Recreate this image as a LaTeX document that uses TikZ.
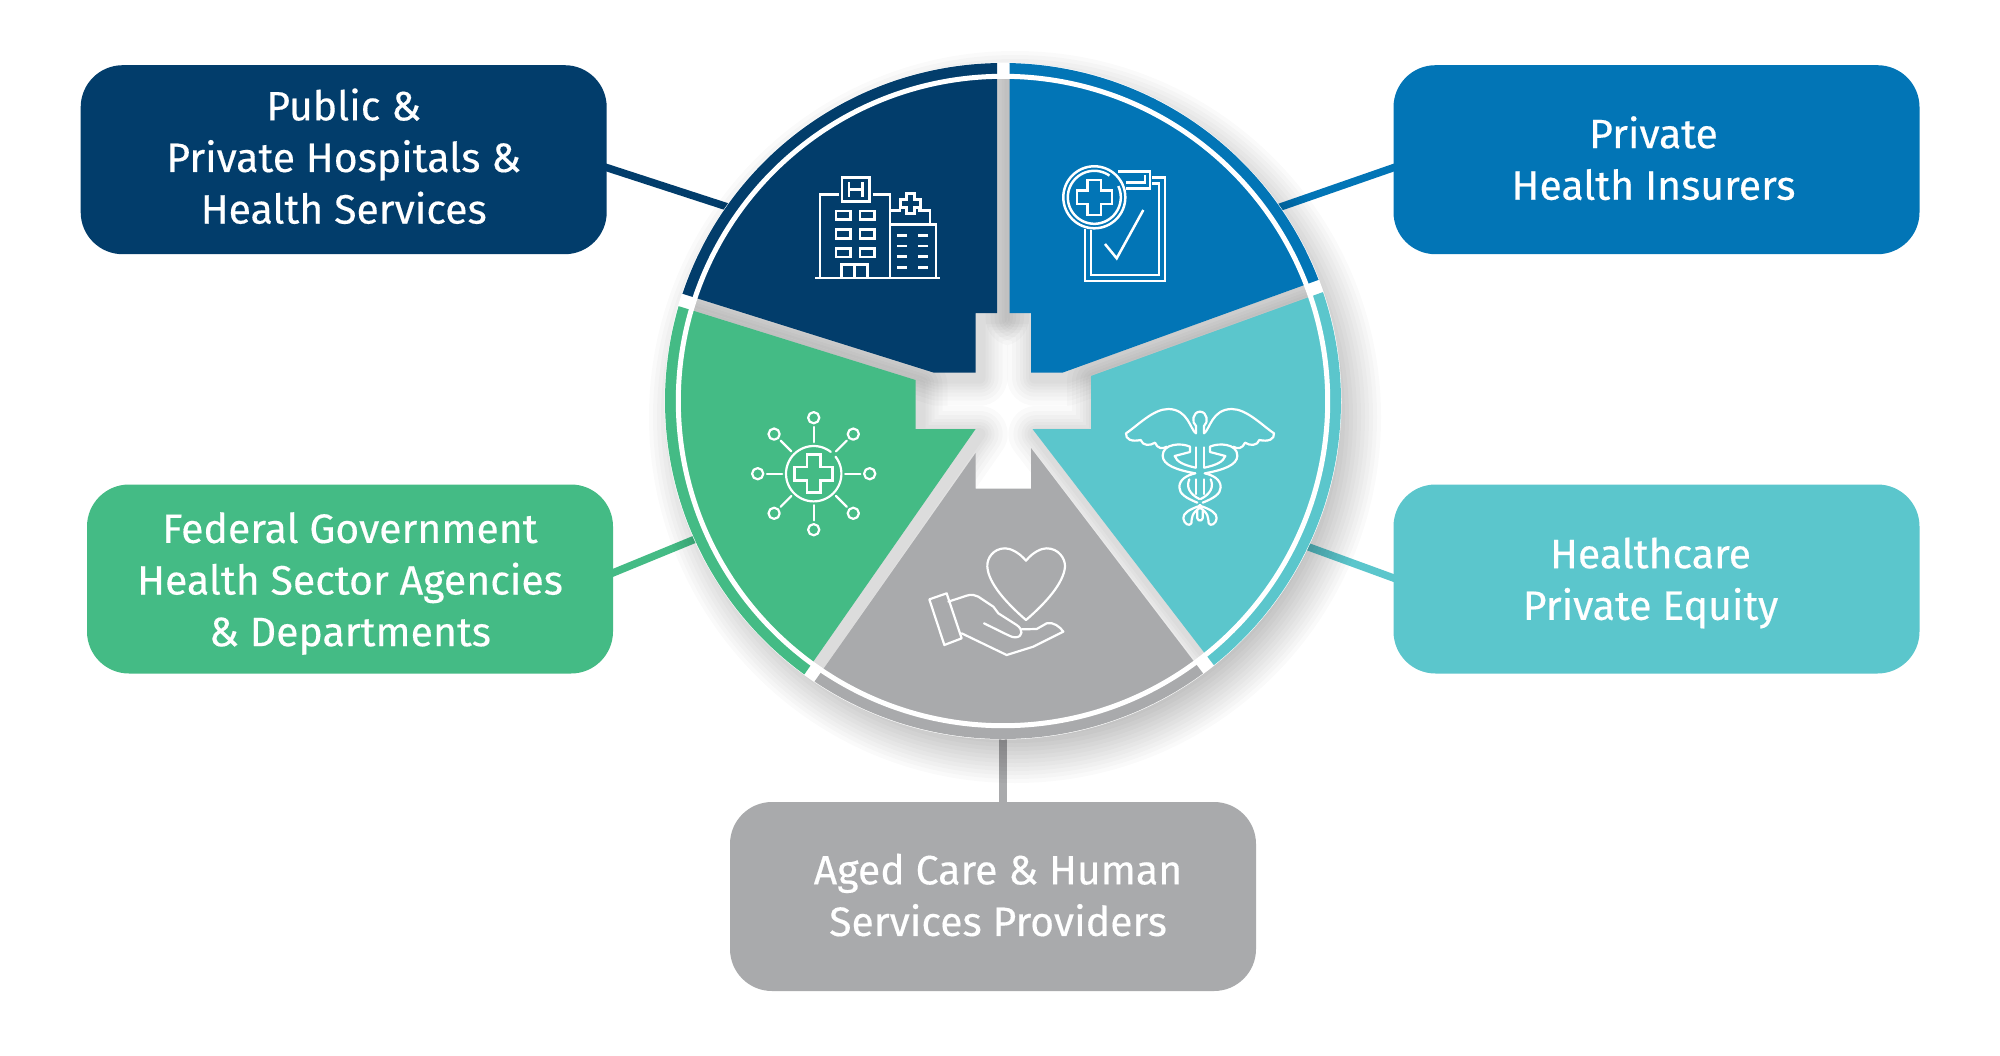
\documentclass[tikz,border=0pt]{standalone}
\usepackage{fontspec}
\setmainfont[FakeBold=0.35]{Fira Sans}
\usetikzlibrary{calc}
\definecolor{navyc}{HTML}{023D6B}
\definecolor{bluec}{HTML}{0275B6}
\definecolor{tealc}{HTML}{5BC6CC}
\definecolor{greenc}{HTML}{44BB85}
\definecolor{grayc}{HTML}{A9AAAC}
\tikzset{
  panel/.style={rounded corners=42pt,minimum width=526pt,minimum height=189pt,inner sep=0pt},
  paneltext/.style={inner sep=0pt,text=white,align=center,font=\fontsize{41}{51.6}\selectfont},
  link/.style={line width=7.5pt},
  iconline/.style={draw=white,line width=2.5pt,fill=none,line join=miter},
  thinicon/.style={draw=white,line width=2.2pt,fill=none,line join=round,line cap=round},
  arcplot/.style={samples=80}
}
\newcommand\medcross[4]{\begin{scope}[shift={(#1,#2)}]
 \draw[iconline] (-#4,-#3)--(#4,-#3)--(#4,-#4)--(#3,-#4)--(#3,#4)--(#4,#4)--(#4,#3)--(-#4,#3)--(-#4,#4)--(-#3,#4)--(-#3,-#4)--(-#4,-#4)--cycle;
\end{scope}}
\def\secnavy{(997,313) -- (997,63) -- plot[arcplot,domain=91:161.5] ({1003+338*cos(\x)},{401-338*sin(\x)}) -- (934,372.7) -- (975.6,372.7) -- (975.6,313) -- cycle}
\def\secblue{(1009.6,313) -- (1009.6,63) -- plot[arcplot,domain=88.9:21] ({1003+338*cos(\x)},{401-338*sin(\x)}) -- (1062.4,372.7) -- (1031,372.7) -- (1031,313) -- cycle}
\def\secteal{(1091,376) -- plot[arcplot,domain=18.8:-51.4] ({1003+338*cos(\x)},{401-338*sin(\x)}) -- (1032.5,429) -- (1091,429) -- cycle}
\def\secgray{(1031,448) -- plot[arcplot,domain=-53.7:-123.9] ({1003+338*cos(\x)},{401-338*sin(\x)}) -- (975.6,453) -- (975.6,488.7) -- (1031,488.7) -- cycle}
\def\secgreen{(915.5,380) -- plot[arcplot,domain=163.7:234] ({1003+338*cos(\x)},{401-338*sin(\x)}) -- (975.6,429) -- (915.5,429) -- cycle}
\def\cadhalf{
 % head, neck
 \draw[thinicon] (-12,130) -- (-12,108) .. controls (-26,98) and (-22,65) .. (0,65);
 % wing
 \draw[thinicon] (-12,130) .. controls (-30,118) and (-35,58) .. (-95,57) .. controls (-140,57) and (-185,105) .. (-222,130)
   .. controls (-224,148) and (-205,156) .. (-178,150) .. controls (-172,168) and (-150,168) .. (-135,158)
   .. controls (-128,176) and (-112,178) .. (-100,170);
 % upper coil outer, crossing into lower coil, tail
 \draw[thinicon] (-30,170) .. controls (-55,158) and (-112,160) .. (-112,197) .. controls (-112,225) and (-70,240) .. (-14,250)
   .. controls (-40,256) and (-62,268) .. (-62,292) .. controls (-62,312) and (-40,325) .. (-8,338);
 \draw[thinicon] (8,350) .. controls (30,358) and (52,370) .. (50,385) .. controls (48,402) and (32,410) .. (26,400) .. controls (24,385) and (28,368) .. (-6,350)
   .. controls (-2,348) and (-2,348) .. (0,345);
 % inner coil
 \draw[thinicon] (-30,170) -- (-30,186) -- (-76,198) .. controls (-70,215) and (-50,225) .. (-13,233);
 \draw[thinicon] (-13,172) -- (-13,233);
 \draw[thinicon] (-13,268) -- (-13,312);
 \draw[thinicon] (-32,268) .. controls (-42,290) and (-32,312) .. (-2,327);
 \draw[thinicon] (-8,362) -- (-8,385) .. controls (-6,393) and (0,393) .. (0,390);
}
\begin{document}
\begin{tikzpicture}[x=1pt,y=-1pt]
\useasboundingbox (0,0) rectangle (2000,1055);
\fill[white] (0,0) rectangle (2000,1055);
% boxes
\node[panel,fill=navyc] (bnavy) at (343.7,159.7) {};
\node[panel,fill=bluec] (bblue) at (1656.5,159.7) {};
\node[panel,fill=tealc] (bteal) at (1656.5,579) {};
\node[panel,fill=greenc] (bgreen) at (350,579) {};
\node[panel,fill=grayc] (bgray) at (993,896.5) {};
\node[paneltext] (tnavy) at ($(bnavy)+(0,-3.5)$) {Public \&\\Private Hospitals \&\\Health Services};
\node[paneltext] (tblue) at ($(bblue)+(-3,-1.5)$) {Private\\Health Insurers};
\node[paneltext] (tteal) at ($(bteal)+(-6,4)$) {Healthcare\\Private Equity};
\node[paneltext] (tgreen) at ($(bgreen)+(0,4.5)$) {Federal Government\\Health Sector Agencies\\\& Departments};
\node[paneltext] (tgray) at ($(bgray)+(5,-1.5)$) {Aged Care \& Human\\Services Providers};
% anchors on the wheel
\coordinate (hub) at (1003,401);
\coordinate (jnavy) at (740,211);
\coordinate (jblue) at (1266,212);
\coordinate (jteal) at (1295,542);
\coordinate (jgreen) at (710,533);
\coordinate (jgray) at (1003,730);
% connectors
\draw[link,navyc] ($(bnavy.east)+(-3,7)$) -- (jnavy);
\draw[link,bluec] ($(bblue.west)+(3,7)$) -- (jblue);
\draw[link,tealc] ($(bteal.west)+(3,0)$) -- (jteal);
\draw[link,greenc] ($(bgreen.east)+(-3,-5)$) -- (jgreen);
\draw[link,grayc] (jgray |- bgray.north) -- (jgray);
% outer shadow
\foreach \r in {314,318,322,326,330,334,338,342,346,350,354,358,362,366}{
  \fill[black,opacity=.021] (1015,417) circle[radius=\r pt];
}
\fill[white] (hub) circle[radius=338.5pt];
% inner shadows
\begin{scope}
\clip (hub) circle[radius=322.5pt];
\foreach \w in {56,46,38,30,24,18,12}{
  \foreach \s in {\secnavy,\secblue,\secteal,\secgreen}{
    \begin{scope}[shift={(4,5)}]
    \draw[black,opacity=.018,line width=\w pt,line join=round] \s;
    \end{scope}
  }
}
\end{scope}
% sectors
\fill[navyc] \secnavy;
\fill[bluec] \secblue;
\fill[tealc] \secteal;
\fill[grayc] \secgray;
\fill[greenc] \secgreen;
\draw[white,line width=5pt] (hub) circle[radius=324.7pt];
% hospital icon
\draw[iconline] (815,278) -- (940,278);
\draw[iconline] (820,278) -- (820,194.7) -- (839,194.7);
\draw[iconline] (872.7,194.7) -- (890,194.7) -- (890,278);
\draw[iconline] (842,177.3) rectangle (869.3,201.3);
\draw[iconline] (849,182) -- (849,197.3) (862.7,182) -- (862.7,197.3) (849,189.3) -- (862.7,189.3);
\foreach \yy in {211,229.7,248.4}{
  \draw[iconline] (836,\yy) rectangle (850.3,\yy+8.6);
  \draw[iconline] (860,\yy) rectangle (874.7,\yy+8.6);
}
\draw[iconline] (841.7,278) -- (841.7,264.7) -- (867.3,264.7) -- (867.3,278) (854.3,264.7) -- (854.3,278);
\draw[iconline] (890,224.3) -- (936,224.3) -- (936,278);
\draw[iconline] (890,210.7) -- (900.7,210.7) (918,210.7) -- (930,210.7) -- (930,224.3);
\medcross{910.7}{203.7}{10}{4}
\foreach \yy in {235.3,246,256.7,267.3}{
  \draw[iconline] (897.3,\yy) -- (907.3,\yy) (918.3,\yy) -- (928.3,\yy);
}
% clipboard icon
\draw[iconline] (1094.3,197.3) circle[radius=31pt];
\begin{scope}[shift={(1094.3,197.3)}]
\draw[iconline] plot[samples=60,domain=55:385] ({26.5*cos(\x)},{-26.5*sin(\x)});
\end{scope}
\medcross{1094.3}{197.3}{17.5}{6.8}
\draw[iconline] (1085,229.3) -- (1085,281) -- (1165,281) -- (1165,177.3) -- (1151.7,177.3);
\draw[iconline] (1091,230) -- (1091,275) -- (1159,275) -- (1159,183.3) -- (1151.7,183.3);
\draw[iconline] (1118.3,171.7) -- (1150,171.7) -- (1150,188.3) -- (1126,188.3);
\draw[iconline] (1126,182.3) -- (1145,182.3) -- (1145,175);
\draw[iconline] (1105,244) -- (1116.7,258.3) -- (1143.3,210);
% caduceus icon
\begin{scope}[shift={(1200,390)},x=.33333pt,y=-.33333pt]\cadhalf\end{scope}
\begin{scope}[shift={(1200,390)},x=-.33333pt,y=-.33333pt]\cadhalf\end{scope}
% heart in hand icon
\begin{scope}[shift={(910,530)},x=.33333pt,y=-.33333pt]
\draw[thinicon] (348,92) .. controls (325,65) and (300,55) .. (285,55) .. controls (250,55) and (230,85) .. (232,110) .. controls (235,160) and (290,220) .. (348,270)
  .. controls (406,220) and (461,160) .. (465,110) .. controls (466,85) and (445,55) .. (410,55) .. controls (395,55) and (370,65) .. (348,92) -- cycle;
\draw[thinicon] (58,208) -- (110,190) -- (155,325) -- (103,345) -- cycle;
\draw[thinicon] (115,215) -- (170,197) .. controls (185,192) and (195,195) .. (205,200) -- (250,230) -- (265,250) -- (320,285) .. controls (340,298) and (340,322) .. (315,322) .. controls (305,322) and (300,318) .. (222,280);
\draw[thinicon] (155,310) -- (290,375) -- (370,350) -- (460,305) .. controls (450,290) and (430,275) .. (410,280) -- (380,297) -- (335,298);
\end{scope}
% network icon
\begin{scope}[shift={(813.7,473.7)}]
\draw[thinicon] plot[samples=60,domain=52:398] ({27.7*cos(\x)},{-27.7*sin(\x)});
\foreach \a in {0,45,...,315}{
  \draw[thinicon] ({31.5*cos(\a)},{-31.5*sin(\a)}) -- ({46.7*cos(\a)},{-46.7*sin(\a)});
  \draw[thinicon] ({56*cos(\a)},{-56*sin(\a)}) circle[radius=5.6pt];
}
\end{scope}
\medcross{813.7}{473.7}{19}{6.7}
\end{tikzpicture}
\end{document}
